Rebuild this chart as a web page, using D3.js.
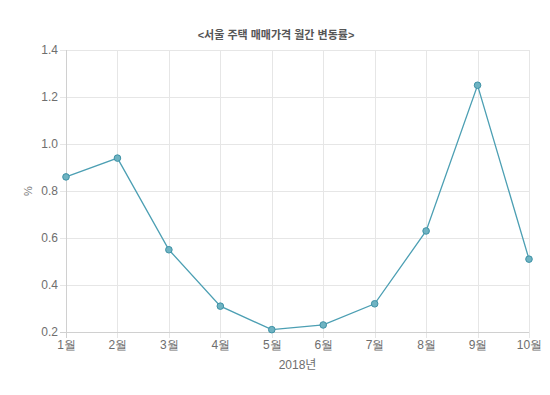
<!DOCTYPE html>
<html lang="ko">
<head>
<meta charset="utf-8">
<script src="https://d3js.org/d3.v7.min.js"></script>
<style>
body { margin: 0; background: #fff; font-family: "Liberation Sans", Arial, "Noto Sans CJK KR", sans-serif; }
.grid line { stroke: #e6e6e6; stroke-width: 1; shape-rendering: crispEdges; }
.axis text { fill: #6e6e6e; font-size: 12px; }
.axis path, .axis line { stroke: #dcdcdc; shape-rendering: crispEdges; }
</style>
</head>
<body>
<svg id="chart"></svg>
<script>
// data
var months = ["1월", "2월", "3월", "4월", "5월", "6월", "7월", "8월", "9월", "10월"];
var rates = [0.86, 0.94, 0.55, 0.31, 0.21, 0.23, 0.32, 0.63, 1.25, 0.51];
var yTicks = [0.2, 0.4, 0.6, 0.8, 1.0, 1.2, 1.4];

var W = 550, H = 395;
var margin = {top: 50, right: 21, bottom: 63, left: 66},
    width = W - margin.left - margin.right,
    height = H - margin.top - margin.bottom;

var svg = d3.select("#chart").attr("width", W).attr("height", H);
var g = svg.append("g").attr("transform", "translate(" + margin.left + "," + margin.top + ")");

var x = d3.scalePoint().domain(months).range([0, width]);
var y = d3.scaleLinear().domain([0.2, 1.4]).range([height, 0]);

// gridlines
g.append("g").attr("class", "grid")
  .selectAll("line").data(yTicks).enter().append("line")
  .attr("x1", -6).attr("x2", width)
  .attr("y1", function(d) { return Math.round(y(d)) + 0.5; })
  .attr("y2", function(d) { return Math.round(y(d)) + 0.5; });
g.append("g").attr("class", "grid")
  .selectAll("line").data(months).enter().append("line")
  .attr("y1", 0).attr("y2", height + 6)
  .attr("x1", function(d) { return Math.round(x(d)) + 0.5; })
  .attr("x2", function(d) { return Math.round(x(d)) + 0.5; });

// axes
var yAxis = g.append("g").attr("class", "axis")
  .call(d3.axisLeft(y).tickValues(yTicks).tickFormat(d3.format(".1f")).tickSize(0).tickPadding(8));
yAxis.select(".domain").remove();
var xAxis = g.append("g").attr("class", "axis")
  .attr("transform", "translate(0," + height + ")")
  .call(d3.axisBottom(x).tickSize(0).tickPadding(8));
xAxis.select(".domain").remove();
g.append("line").attr("x1", 0.5).attr("x2", 0.5).attr("y1", 0).attr("y2", height + 6)
  .attr("stroke", "#d0d0d0");
g.append("line").attr("x1", -6).attr("x2", width).attr("y1", height + 0.5).attr("y2", height + 0.5)
  .attr("stroke", "#d0d0d0");

// line
var line = d3.line()
  .x(function(d, i) { return x(months[i]); })
  .y(function(d) { return y(d); });
g.append("path").datum(rates)
  .attr("d", line)
  .attr("fill", "none")
  .attr("stroke", "#4c9fb3")
  .attr("stroke-width", 1.3);

g.selectAll("circle").data(rates).enter().append("circle")
  .attr("cx", function(d, i) { return x(months[i]); })
  .attr("cy", function(d) { return y(d); })
  .attr("r", 3.3)
  .attr("fill", "#6fb3c2")
  .attr("stroke", "#3f92a6")
  .attr("stroke-width", 1);

// title and labels
svg.append("text").attr("x", 276).attr("y", 39)
  .attr("text-anchor", "middle").attr("fill", "#555")
  .attr("font-size", 11).attr("font-weight", "bold")
  .text("<서울 주택 매매가격 월간 변동률>");
svg.append("text").attr("transform", "translate(32," + (margin.top + height / 2) + ") rotate(-90)")
  .attr("text-anchor", "middle").attr("fill", "#777").attr("font-size", 11)
  .text("%");
svg.append("text").attr("x", margin.left + width / 2).attr("y", 369)
  .attr("text-anchor", "middle").attr("fill", "#6e6e6e").attr("font-size", 12)
  .text("2018년");
</script>
</body>
</html>
